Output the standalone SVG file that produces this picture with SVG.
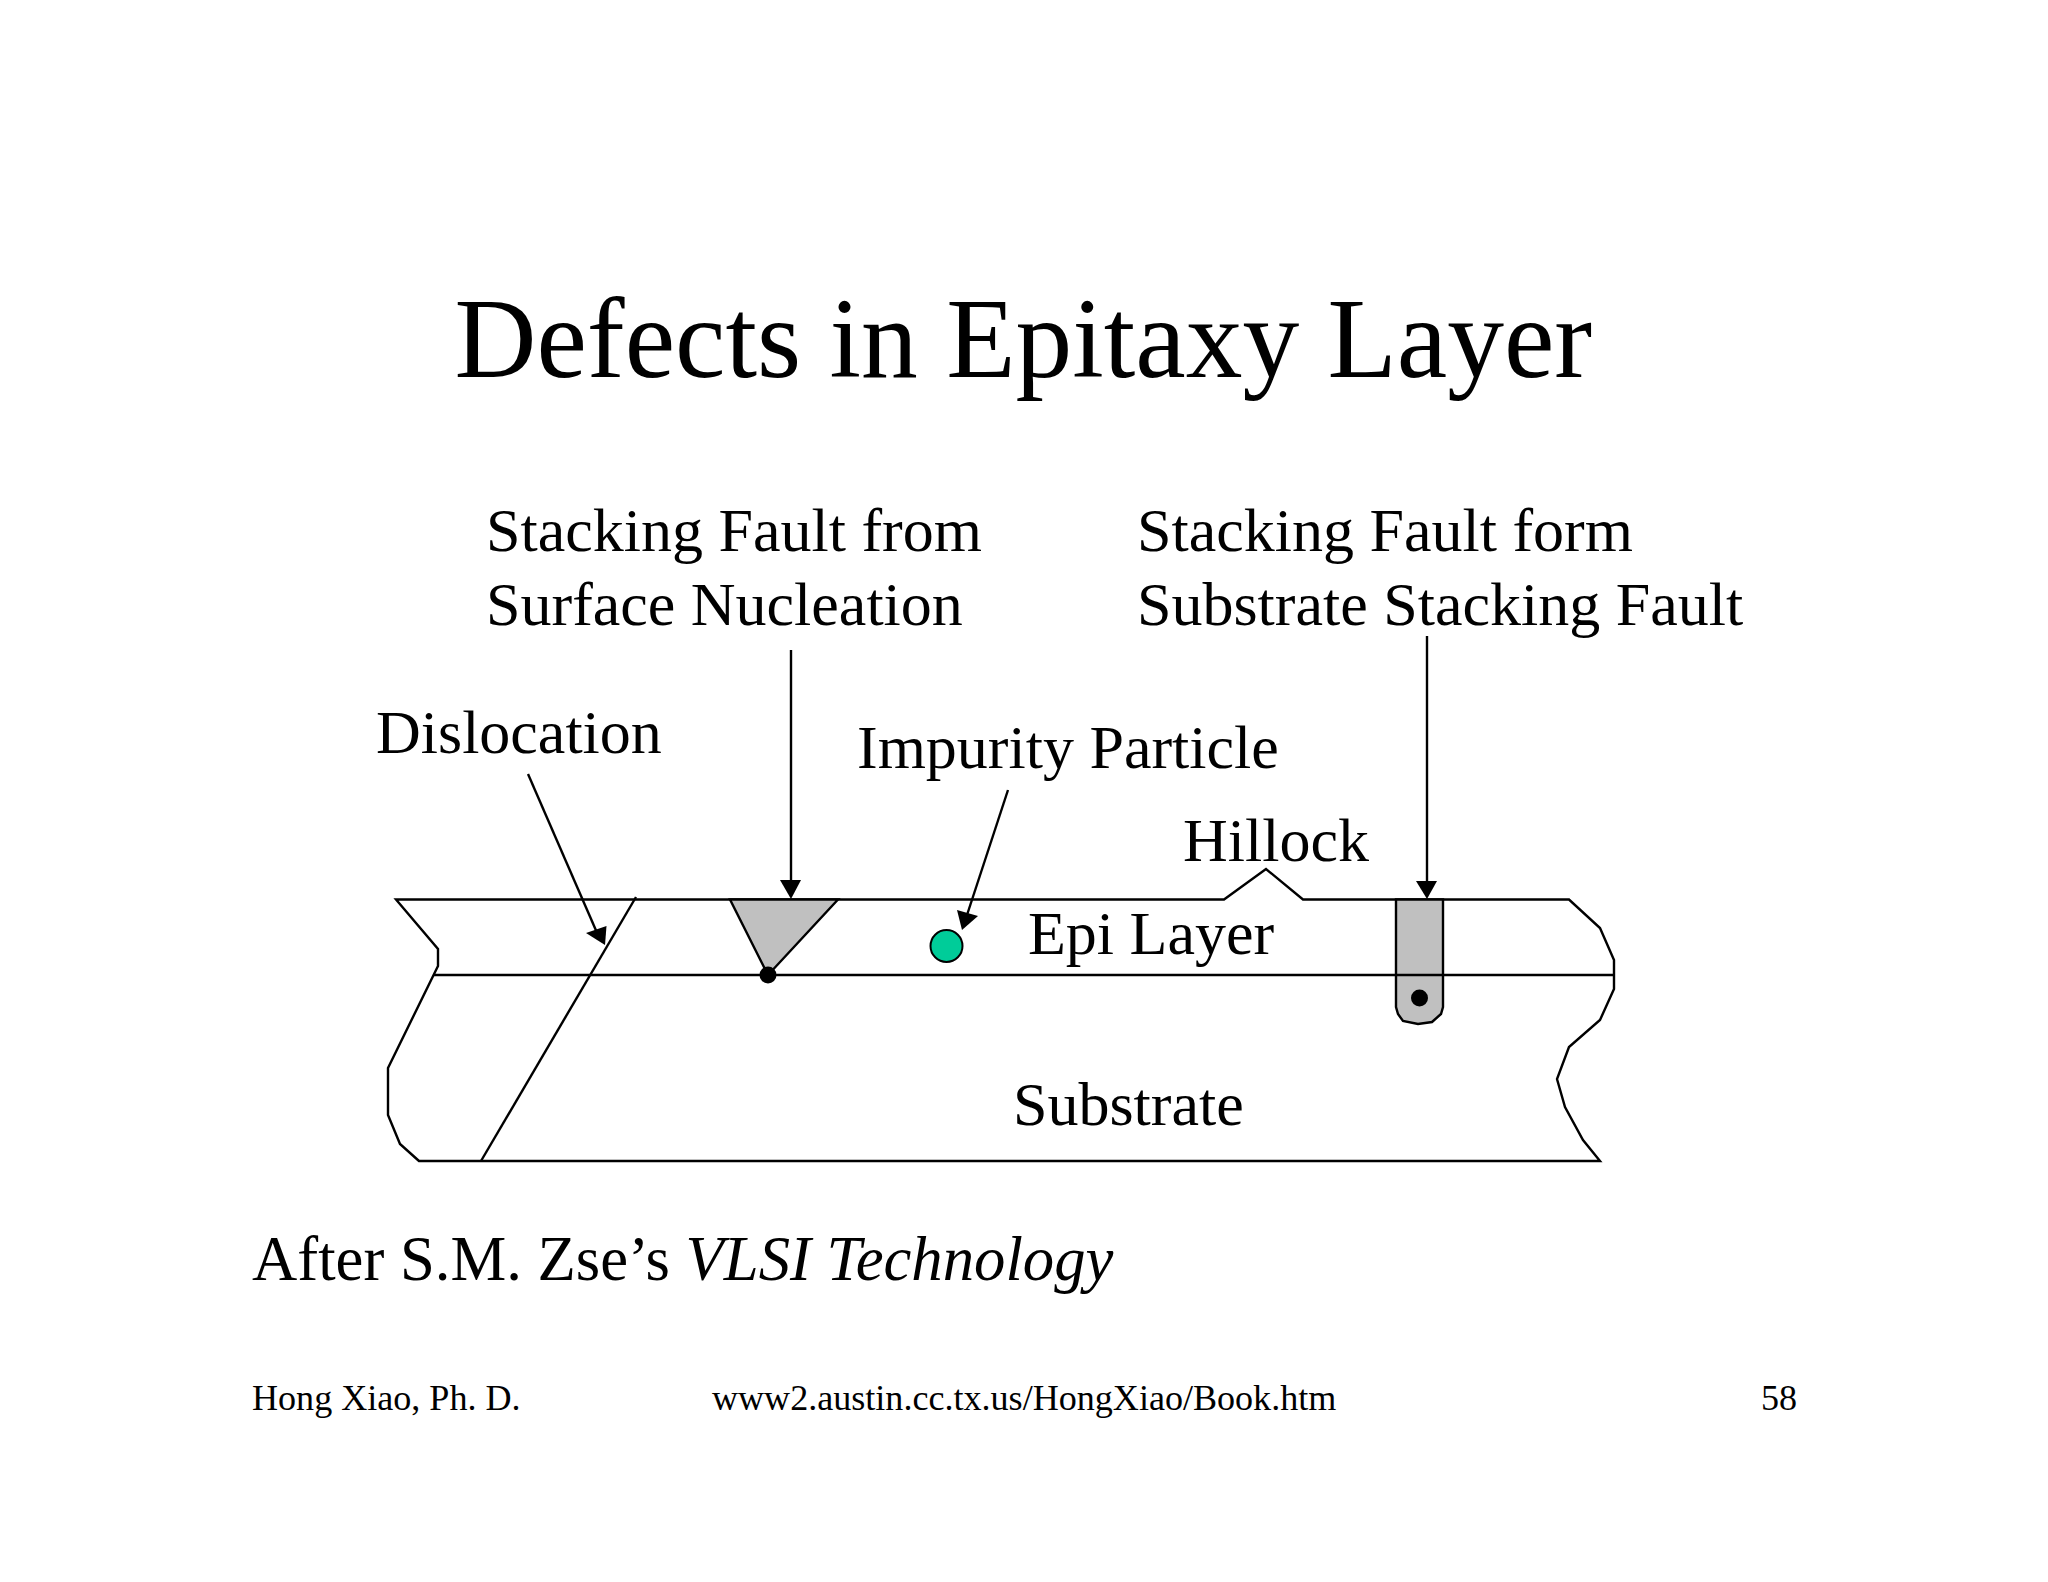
<svg xmlns="http://www.w3.org/2000/svg" width="2048" height="1582" viewBox="0 0 2048 1582">
<style>
text{font-family:"Liberation Serif","Times New Roman",serif;fill:#000}
.h{font-size:113.5px}
.t{font-size:62px}
.c{font-size:62.7px}
.f{font-size:36.1px}
.l{fill:none;stroke:#000;stroke-width:2.4;stroke-linejoin:miter}
.g{fill:#c0c0c0;stroke:#000;stroke-width:2.4}
.a{fill:#000;stroke:none}
</style>
<rect width="2048" height="1582" fill="#fff"/>
<g id="title"><text class="h" x="454.5" y="377">Defects in Epitaxy Layer</text></g>
<g id="wafer">
<path class="l" d="M419 1161L400 1144L388 1115V1068L438 966V949L396 899.5H1224L1266 869L1303 899.5H1569L1600 928L1614 960V989L1600 1020L1569 1047L1557 1079L1565 1107L1583 1140L1600 1161Z"/>
</g>
<g id="interface"><path class="l" d="M434 975H1614"/></g>
<g id="dislocation"><path class="l" d="M636 897L481 1161"/></g>
<g id="surface-fault">
<path class="g" d="M730 899.5H838L768 975Z"/>
<circle class="a" cx="768" cy="975" r="8.5"/>
</g>
<g id="impurity"><circle cx="946.5" cy="946" r="16" fill="#00cc99" stroke="#000" stroke-width="2"/></g>
<g id="substrate-fault">
<path class="g" d="M1396 899.5H1443V1007L1441 1014L1432 1022L1418 1024L1403 1021L1398 1014L1396 1007Z"/>
<path class="l" d="M1396 975H1443"/>
<circle class="a" cx="1419.5" cy="998" r="8.5"/>
</g>
<g id="connectors">
<path class="l" d="M528 774L598 935"/><path class="a" d="M605 945L586 933L606.5 926Z"/>
<path class="l" d="M791 650V882"/><path class="a" d="M791 899L780 880H801Z"/>
<path class="l" d="M1008 790L967 915"/><path class="a" d="M962 930L957 910L978 916Z"/>
<path class="l" d="M1427 636V882"/><path class="a" d="M1427 899L1416 881H1437Z"/>
</g>
<g id="labels">
<text class="t" x="486" y="550.5">Stacking Fault from</text>
<text class="t" x="486" y="624.5">Surface Nucleation</text>
<text class="t" x="1137" y="550.5">Stacking Fault form</text>
<text class="t" x="1137" y="624.5">Substrate Stacking Fault</text>
<text class="t" x="376" y="752.5">Dislocation</text>
<text class="t" x="857" y="767.5">Impurity Particle</text>
<text class="t" x="1183" y="860.5">Hillock</text>
<text class="t" x="1028" y="953.5">Epi Layer</text>
<text class="t" x="1013" y="1124.5">Substrate</text>
<text class="c" x="252" y="1280">After S.M. Zse’s <tspan font-style="italic">VLSI Technology</tspan></text>
</g>
<g id="footer">
<text class="f" x="252" y="1409.5">Hong Xiao, Ph. D.</text>
<text class="f" x="712" y="1409.5">www2.austin.cc.tx.us/HongXiao/Book.htm</text>
<text class="f" x="1761" y="1409.5">58</text>
</g>
</svg>
